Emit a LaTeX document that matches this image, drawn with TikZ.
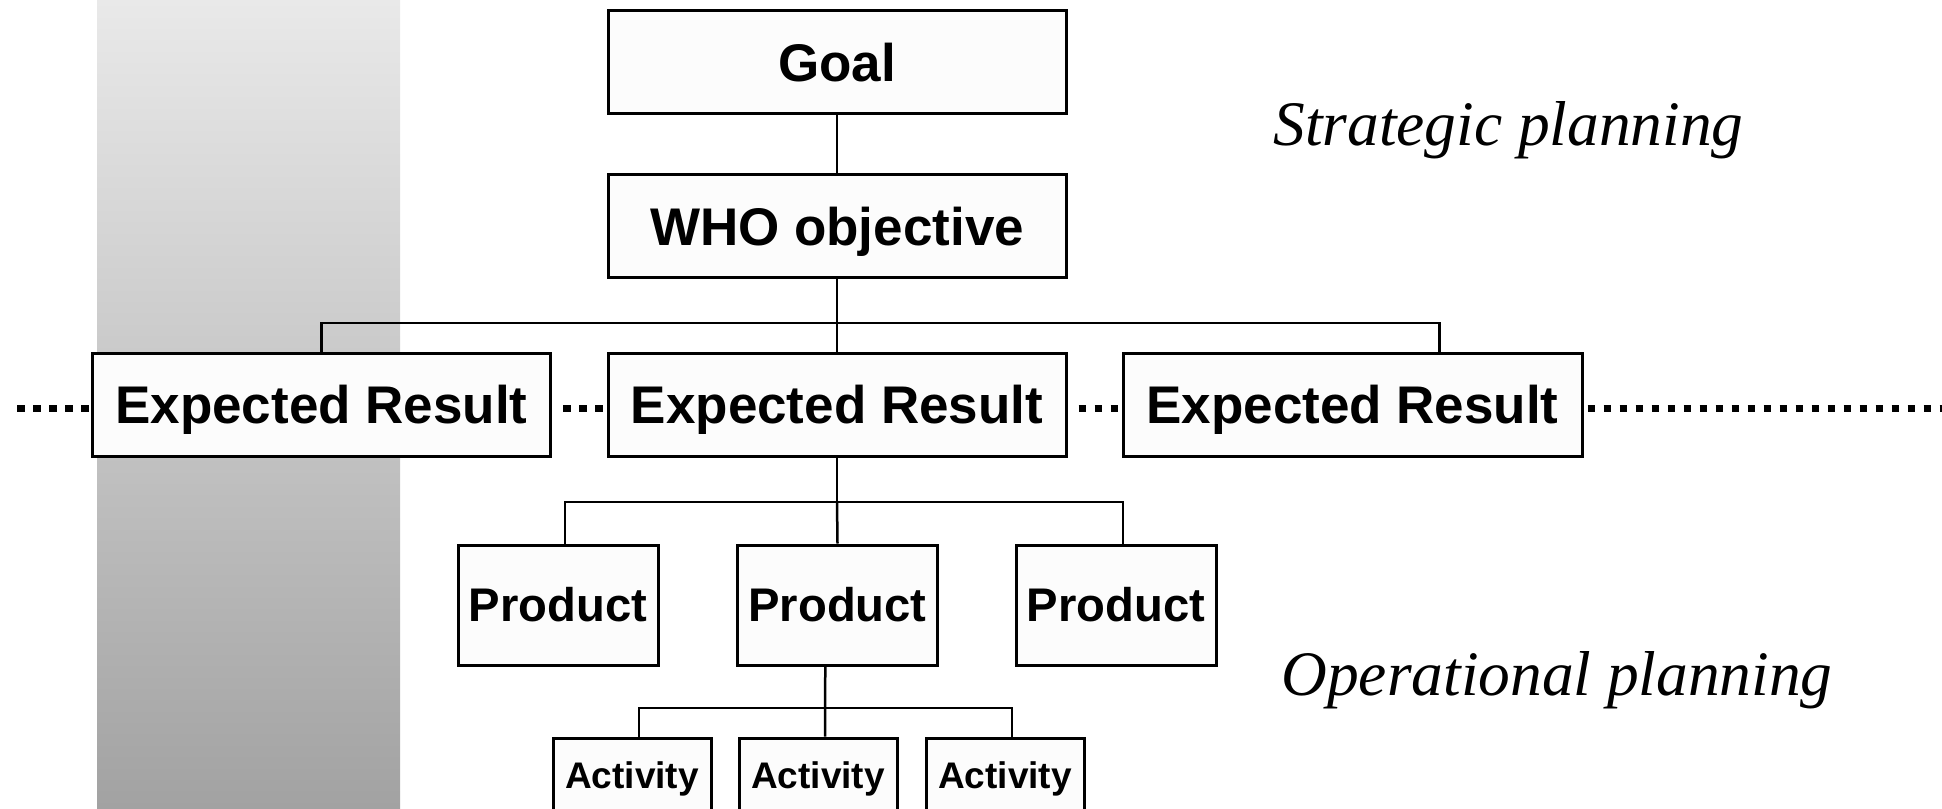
\documentclass[tikz,border=0pt]{standalone}
\usepackage{fontspec}
\setmainfont{Liberation Serif}
\setsansfont{Liberation Sans}
\usetikzlibrary{calc}
\definecolor{bandtop}{HTML}{E9E9E9}
\definecolor{bandbot}{HTML}{A2A2A2}
\definecolor{boxfill}{HTML}{FCFCFC}
\begin{document}
\begin{tikzpicture}[x=0.5pt,y=-0.5pt,
  box/.style={draw=black, line width=1.5pt, fill=boxfill, inner sep=0pt, text depth=0pt},
  bigbox/.style={box, minimum width=229pt, minimum height=51.5pt, text height=19pt,
    font=\sffamily\bfseries\fontsize{26.5}{30}\selectfont},
  prodbox/.style={box, minimum width=100pt, minimum height=60pt, text height=16.9pt,
    font=\sffamily\bfseries\fontsize{23.6}{27}\selectfont},
  actbox/.style={box, minimum width=79pt, minimum height=37pt, text height=13.2pt,
    font=\sffamily\bfseries\fontsize{18.5}{22}\selectfont},
  conn/.style={draw=black, line width=1.25pt},
  dotline/.style={draw=black, line width=3.8pt, dash pattern=on 3.8pt off 4.2pt},
  lbl/.style={inner sep=0pt, font=\itshape\fontsize{31.7}{36}\selectfont}
]
\useasboundingbox (0,0) rectangle (1942,808);

% shaded vertical band in the background
\shade[top color=bandtop, bottom color=bandbot] (97,0) rectangle (400,808);

% boxes
\node[bigbox] (goal) at (837,62.5) {Goal};
\node[bigbox] (who)  at (837,226)  {WHO objective};
\node[bigbox] (er1)  at (321.5,404.5) {Expected Result};
\node[bigbox] (er2)  at (837,404.5)   {Expected Result};
\node[bigbox, minimum width=229.5pt] (er3) at (1352.5,404.5) {Expected Result};

\node[prodbox] (p1) at (558,605)   {Product};
\node[prodbox] (p2) at (837.5,605) {Product};
\node[prodbox] (p3) at (1116,605)  {Product};

\node[actbox] (a1) at (632,775)  {Activity};
\node[actbox] (a2) at (818,775)  {Activity};
\node[actbox] (a3) at (1005,775) {Activity};

% labels
\node[lbl, anchor=base west] (strat) at (1273,145) {Strategic planning};
\node[lbl, anchor=base west] (oper)  at (1281,695) {Operational planning};

% tree connectors
\coordinate (hub1) at (837,323);
\coordinate (er3top) at ($(er3.north west)!0.688!(er3.north east)$);
\draw[conn] (goal) -- (who);
\draw[conn] (who.south) -- (hub1);
\draw[conn] (er1.north) |- (hub1) -| (er3top);
\draw[conn] (hub1) -- (er2.north);

\coordinate (hub2) at (837,502);
\coordinate (p1top) at ($(p1.north west)!0.535!(p1.north east)$);
\coordinate (p3top) at ($(p3.north west)!0.535!(p3.north east)$);
\draw[conn] (er2.south) -- (hub2);
\draw[conn] (p1top) |- (hub2) -| (p3top);
\draw[conn] (hub2) -- (p2.north);

\coordinate (hub3) at (825,708);
\coordinate (p2bot) at ($(p2.south west)!0.44!(p2.south east)$);
\coordinate (a1top) at ($(a1.north west)!0.544!(a1.north east)$);
\coordinate (a2top) at ($(a2.north west)!0.544!(a2.north east)$);
\coordinate (a3top) at ($(a3.north west)!0.544!(a3.north east)$);
\draw[conn] (p2bot) -- (hub3);
\draw[conn] (a1top) |- (hub3) -| (a3top);
\draw[conn] (hub3) -- (a2top);

% dotted line through the row of expected results
\coordinate (lend) at (17,408.5);
\coordinate (rend) at (1942,408.5);
\draw[dotline] (lend) -- (lend -| er1.west);
\draw[dotline, shorten <=5.5pt] (er1.east |- lend) -- (er2.west |- lend);
\draw[dotline, shorten <=5.5pt] (er2.east |- lend) -- (er3.west |- lend);
\draw[dotline, shorten <=2pt] (er3.east |- lend) -- (rend);
\end{tikzpicture}
\end{document}
